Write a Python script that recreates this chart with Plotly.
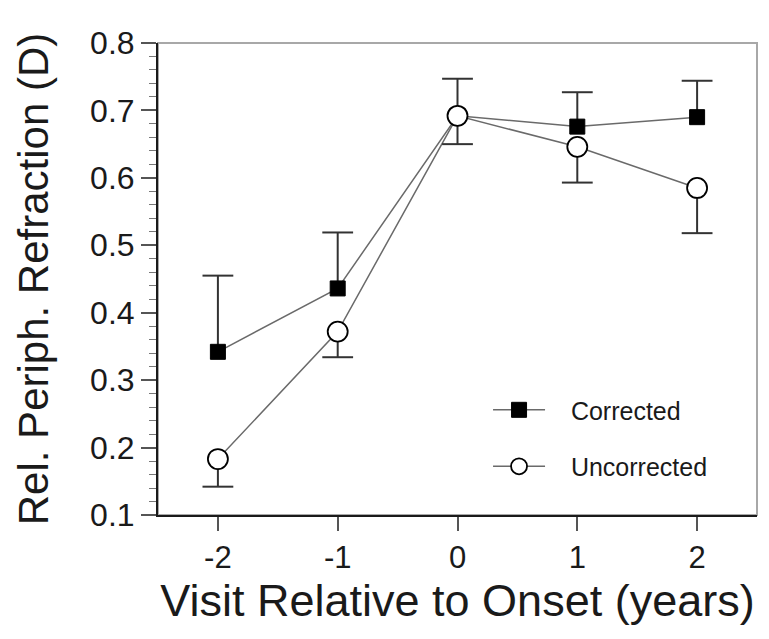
import plotly.graph_objects as go

visits = [-2, -1, 0, 1, 2]
tick_labels = ["-2", "-1", "0", "1", "2"]

corrected = [0.342, 0.436, 0.692, 0.676, 0.690]
corrected_err_up = [0.113, 0.083, 0.055, 0.051, 0.054]

uncorrected = [0.183, 0.372, 0.692, 0.646, 0.585]
uncorrected_err_down = [0.041, 0.038, 0.042, 0.053, 0.067]

FONT = "Liberation Sans, Arial, sans-serif"
EB_COLOR = "#333333"
LINE_COLOR = "#6a6a6a"
PAD = "\u00a0\u00a0\u00a0"

fig = go.Figure()

# Corrected series
fig.add_trace(go.Scatter(
    x=visits, y=corrected, mode="lines+markers", name=PAD + "Corrected",
    line=dict(color=LINE_COLOR, width=1.5),
    marker=dict(symbol="square", size=15, color="black", line=dict(color="black", width=1)),
    error_y=dict(type="data", symmetric=False, array=corrected_err_up,
                 arrayminus=[0] * len(visits), width=0, thickness=2, color=EB_COLOR),
    legendgroup="a",
))
fig.add_trace(go.Scatter(
    x=visits, y=[v + e for v, e in zip(corrected, corrected_err_up)], mode="markers",
    marker=dict(symbol="line-ew", size=22, line=dict(color=EB_COLOR, width=2)),
    showlegend=False, hoverinfo="skip",
))

# Uncorrected series
fig.add_trace(go.Scatter(
    x=visits, y=uncorrected, mode="lines+markers", name=PAD + "Uncorrected",
    line=dict(color=LINE_COLOR, width=1.5),
    marker=dict(symbol="circle", size=20, color="white", line=dict(color="black", width=1.8)),
    error_y=dict(type="data", symmetric=False, array=[0] * len(visits),
                 arrayminus=uncorrected_err_down, width=0, thickness=2, color=EB_COLOR),
    legendgroup="b",
))
fig.add_trace(go.Scatter(
    x=visits, y=[v - e for v, e in zip(uncorrected, uncorrected_err_down)], mode="markers",
    marker=dict(symbol="line-ew", size=22, line=dict(color=EB_COLOR, width=2)),
    showlegend=False, hoverinfo="skip",
))

# frame (top/right grey)
fig.add_shape(type="rect", xref="paper", yref="paper", x0=0, y0=0, x1=1, y1=1,
              line=dict(color="#a8a8a8", width=2), layer="below")

fig.update_layout(
    width=769, height=639,
    margin=dict(l=158, r=12, t=43, b=124),
    paper_bgcolor="white", plot_bgcolor="white",
    font=dict(family=FONT, color="#1a1a1a"),
    showlegend=True,
    legend=dict(x=0.551, y=0.163, xanchor="left", yanchor="middle",
                font=dict(size=25, family=FONT, color="#1a1a1a"),
                bgcolor="rgba(0,0,0,0)", tracegroupgap=21, itemwidth=52,
                traceorder="grouped"),
)

fig.update_xaxes(
    range=[-2.5, 2.5], tickmode="array", tickvals=visits, ticktext=tick_labels,
    showline=True, linecolor="#1a1a1a", linewidth=2, mirror=False,
    ticks="outside", ticklen=14, tickwidth=1.5, tickcolor="#555",
    tickfont=dict(size=31, family=FONT), showgrid=False, zeroline=False,
    title=dict(text="Visit Relative to Onset (years)", font=dict(size=45, family=FONT), standoff=9),
)
fig.update_yaxes(
    range=[0.1, 0.8], tickmode="linear", tick0=0.1, dtick=0.1, tickformat=".1f",
    showline=True, linecolor="#1a1a1a", linewidth=2, mirror=False,
    ticks="outside", ticklen=15, tickwidth=1.5, tickcolor="#555",
    minor=dict(ticks="outside", ticklen=7, dtick=0.02, tickwidth=1.2, tickcolor="#777", showgrid=False),
    tickfont=dict(size=32, family=FONT), showgrid=False, zeroline=False,
    title=dict(text="Rel. Periph. Refraction (D)", font=dict(size=42, family=FONT), standoff=28),
)

fig.write_html("out.html")
